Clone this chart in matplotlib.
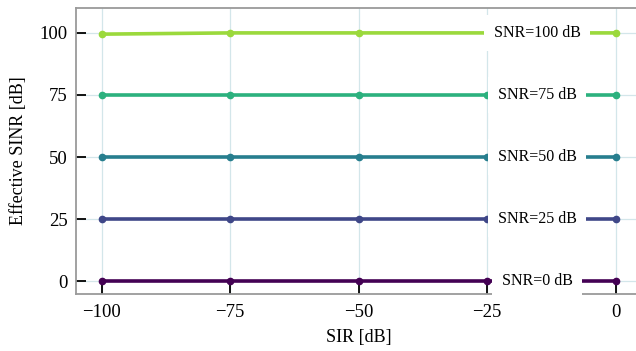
import numpy as np
import matplotlib
import matplotlib.pyplot as plt

plt.rcParams['font.family'] = ['Liberation Serif', 'DejaVu Serif']
plt.rcParams['mathtext.fontset'] = 'stix'

# SIR sweep and the resulting effective SINR for each SNR
sir_db = [-100, -75, -50, -25, 0]
snr_levels = [0, 25, 50, 75, 100]
sinr_snr0 = [0, 0, 0, 0, 0]
sinr_snr25 = [25, 25, 25, 25, 25]
sinr_snr50 = [50, 50, 50, 50, 50]
sinr_snr75 = [75, 75, 75, 75, 75]
sinr_snr100 = [99.5, 100, 100, 100, 100]
sinr_all = [sinr_snr0, sinr_snr25, sinr_snr50, sinr_snr75, sinr_snr100]

label_x = -15.3

colors = matplotlib.colormaps['viridis'](np.linspace(0, 0.85, len(snr_levels)))

fig = plt.figure(figsize=(6.36, 3.51), dpi=100)
ax = fig.add_axes([0.1195, 0.162, 0.889, 0.815])

for snr, sinr, c in zip(snr_levels, sinr_all, colors):
    ax.plot(sir_db, sinr, color=c, lw=2.6, marker='o', ms=4.5, zorder=3)
    ax.text(label_x, snr, f'SNR={snr} dB', fontsize=11.5, ha='center', va='center',
            zorder=4, bbox=dict(facecolor='white', edgecolor='none', pad=7))

ax.set_xlim(-105, 5)
ax.set_ylim(-5.2, 110)
ax.set_xticks([-100, -75, -50, -25, 0])
ax.set_yticks([0, 25, 50, 75, 100])

ax.grid(True, color='#d3e6ea', lw=0.9, zorder=0)
ax.tick_params(direction='in', length=7, width=1.3, color='black', labelsize=13.5)
ax.tick_params(axis='x', pad=7)
ax.tick_params(axis='y', pad=6)
for side in ['left', 'bottom', 'top']:
    ax.spines[side].set_color('#9a9a9a')
    ax.spines[side].set_linewidth(1.3)
ax.spines['right'].set_visible(False)

ax.set_xlabel('SIR [dB]', fontsize=13, labelpad=6)
ax.set_ylabel('Effective SINR [dB]', fontsize=13, labelpad=9)

plt.savefig('out.png', dpi=100)
